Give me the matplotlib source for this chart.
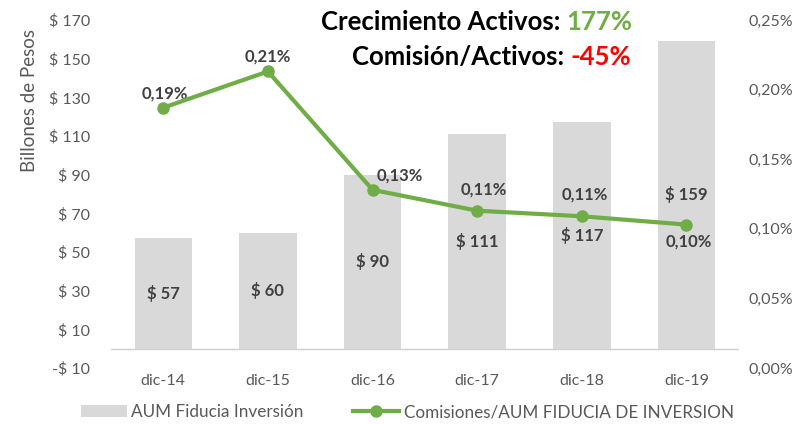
import numpy as np
import matplotlib.pyplot as plt
from matplotlib.lines import Line2D
from matplotlib.patches import Patch

plt.rcParams['font.family'] = ['Lato', 'DejaVu Sans']

categories = ['dic-14', 'dic-15', 'dic-16', 'dic-17', 'dic-18', 'dic-19']
aum = [57, 60, 90, 111, 117, 159]
comision_pct = [0.187, 0.213, 0.128, 0.113, 0.109, 0.103]
comision_labels = ['0,19%', '0,21%', '0,13%', '0,11%', '0,11%', '0,10%']
left_ticks = [-10, 10, 30, 50, 70, 90, 110, 130, 150, 170]
right_ticks = [0.0, 0.05, 0.10, 0.15, 0.20, 0.25]

bar_color = '#D9D9D9'
line_color = '#70AD47'
text_color = '#595959'
label_color = '#404040'

fig = plt.figure(figsize=(8.1, 4.24), dpi=100)
ax = fig.add_axes([0.137, 0.132, 0.775, 0.821])
ax2 = ax.twinx()

x = np.arange(len(categories))
ax.bar(x, aum, width=0.55, color=bar_color, zorder=1)
ax.axhline(0, color='#D0D0D0', lw=1, zorder=0)
ax.set_xlim(-0.5, len(categories) - 0.5)
ax.set_ylim(-10, 170)
ax.set_yticks(left_ticks)
ax.set_yticklabels([('-$ %d' % -v) if v < 0 else ('$ %d' % v) for v in left_ticks])
ax.set_xticks(x)
ax.set_xticklabels(categories)
ax.tick_params(axis='both', length=0, labelsize=11.5, colors=text_color)
ax.tick_params(axis='x', pad=4)
ax.tick_params(axis='y', pad=15)
for s in ax.spines.values():
    s.set_visible(False)

# etiquetas de las barras
for i, v in enumerate(aum):
    ax.text(i, v / 2, '$ %d' % v, ha='center', va='center',
            fontsize=12, fontweight='bold', color=label_color, zorder=5)

ax2.plot(x, comision_pct, color=line_color, lw=3, marker='o', ms=8, zorder=4)
ax2.set_ylim(0, 0.25)
ax2.set_yticks(right_ticks)
ax2.set_yticklabels([('%.2f%%' % v).replace('.', ',') for v in right_ticks])
ax2.tick_params(axis='y', length=0, labelsize=11.5, colors=text_color, pad=7)
for s in ax2.spines.values():
    s.set_visible(False)

# etiquetas de la linea (offset en puntos)
line_offsets = [(1, 10.5), (0, 10.5), (20, 10.5), (5, 15), (2, 16), (2, -12)]
for i, v in enumerate(comision_pct):
    ax2.annotate(comision_labels[i], (i, v), xytext=line_offsets[i],
                 textcoords='offset points', ha='center', va='center',
                 fontsize=12, fontweight='bold', color=label_color)

# titulo
t1 = fig.text(0.781, 0.948, '177%', ha='right', va='center',
              fontsize=18.5, fontweight='bold', color=line_color)
fig.canvas.draw()
ax.annotate('Crecimiento Activos: ', xy=(0, 0.5), xycoords=t1, ha='right', va='center',
            fontsize=18.5, fontweight='bold', color='black', annotation_clip=False)
t2 = fig.text(0.779, 0.866, '-45%', ha='right', va='center',
              fontsize=18.5, fontweight='bold', color='#FF0000')
ax.annotate('Comisión/Activos: ', xy=(0, 0.5), xycoords=t2, ha='right', va='center',
            fontsize=18.5, fontweight='bold', color='black', annotation_clip=False)

fig.text(0.037, 0.764, 'Billones de Pesos', rotation=90, ha='center', va='center',
         fontsize=13.5, color=text_color)

handles = [Patch(facecolor=bar_color, edgecolor='none'),
           Line2D([0], [0], color=line_color, lw=3, marker='o', ms=8)]
fig.legend(handles, ['AUM Fiducia Inversión', 'Comisiones/AUM FIDUCIA DE INVERSION'],
           loc='center', bbox_to_anchor=(0.503, 0.028), ncol=2, frameon=False,
           fontsize=12.3, labelcolor=text_color, columnspacing=2.9,
           handlelength=2.7, handletextpad=0.25)

fig.savefig('out.png', dpi=100)
